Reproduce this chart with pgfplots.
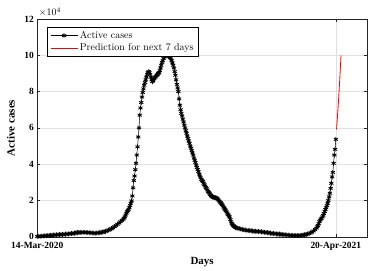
\documentclass[border=0pt]{standalone}
\usepackage{fontspec}
\usepackage{pgfplots}
\pgfplotsset{compat=1.18}
\newfontfamily\tnr{Liberation Serif}
\begin{document}
\begin{tikzpicture}
\begin{axis}[
 scale only axis, width=330bp, height=218bp,
 xmin=0, xmax=444, ymin=0, ymax=120000,
 xtick={0,402}, xticklabels={14-Mar-2020,20-Apr-2021},
 ytick={0,20000,40000,60000,80000,100000,120000},
 yticklabels={0,2,4,6,8,10,12},
 scaled y ticks=false,
 grid=major, major grid style={black!12, line width=0.5bp},
 axis line style={black!85, line width=0.6bp},
 tick style={black!85, line width=0.5bp},
 tick align=inside, major tick length=3bp,
 ticklabel style={font=\tnr\bfseries\fontsize{9.5}{11}\selectfont},
 xticklabel style={yshift=-2bp},
 xlabel={Days}, ylabel={Active cases},
 every axis x label/.style={at={(axis description cs:0.5,-0.115)},anchor=center,font=\tnr\bfseries\fontsize{11}{13}\selectfont},
 every axis y label/.style={at={(axis description cs:-0.08,0.5)},rotate=90,anchor=center,font=\tnr\bfseries\fontsize{11}{13}\selectfont},
 legend cell align=left,
 legend style={at={(axis description cs:0.0294,0.963)}, anchor=north west, draw=black, line width=0.5bp, font=\fontsize{10}{12}\selectfont},
 legend image code/.code={\draw[mark repeat=2,mark phase=2,#1] plot coordinates {(0bp,0bp)(13.5bp,0bp)(27bp,0bp)};},
]
\addplot[black, line width=0.5bp, mark=asterisk, mark size=2.4bp, mark options={line width=0.8bp}] table {
x y
0 200
2 270
4 330
6 400
8 470
10 530
12 600
14 670
16 730
18 800
20 870
22 930
24 1000
26 1070
28 1130
30 1200
32 1270
34 1330
36 1400
38 1470
40 1530
42 1600
44 1670
46 1780
48 1900
50 2030
52 2170
54 2300
56 2370
58 2430
60 2500
62 2500
64 2470
66 2400
68 2330
70 2270
72 2200
74 2130
76 2070
78 2000
80 2070
82 2170
84 2300
86 2430
88 2600
90 2800
92 3000
94 3300
96 3700
98 4100
100 4500
102 5000
104 5600
106 6200
108 6900
110 7600
112 8300
114 9000
116 9800
117 10300
118 11000
119 12000
120 13000
121 13800
122 14500
123 15200
124 16000
125 17200
126 18500
127 19800
128 22500
129 27000
130 31000
131 33500
132 37000
133 40500
134 45000
135 49600
136 55000
137 60000
138 67000
139 71000
140 74000
141 77000
142 79500
143 81500
144 83500
145 85000
146 86500
147 88000
148 89500
149 90500
150 91000
151 90500
152 89500
153 88000
154 86500
155 85500
156 86000
157 87000
158 87500
159 88000
160 88500
161 89000
162 89500
163 90000
164 90500
165 91500
166 93000
167 94500
168 96000
169 97000
170 98200
171 99000
172 99600
173 100000
174 100200
175 100000
176 99800
177 99500
178 99200
179 98700
180 98000
181 97000
182 95800
183 94500
184 93000
185 91000
186 89000
187 86500
188 84000
189 82000
190 80000
191 76000
192 72500
193 70000
194 68000
195 66500
196 64800
197 63300
198 61500
199 60000
200 58500
201 57000
202 55500
203 54200
204 52800
205 51500
206 50000
207 48800
208 47500
209 46200
210 45000
211 43500
212 42200
213 41000
214 39500
215 38200
216 37000
217 35900
218 34500
219 33500
220 32500
221 31700
222 31000
223 30400
224 29500
225 28700
226 28000
227 27200
228 26500
229 25800
230 25000
231 24500
232 24000
233 23300
234 22700
235 22200
236 22000
237 21800
238 21700
239 21600
240 21500
241 21400
242 21200
243 20800
244 20300
245 19700
246 19200
247 18800
248 18300
249 17700
250 17000
251 16300
252 15700
253 15000
254 14300
255 13700
256 13000
257 12200
258 11500
259 11000
260 9500
261 8200
262 7200
263 6600
264 6200
265 5800
266 5500
267 5200
268 5000
270 4700
272 4500
274 4300
276 4100
278 3900
280 3700
282 3570
284 3470
286 3400
288 3270
290 3170
292 3100
294 3030
296 2970
298 2900
300 2830
302 2730
304 2600
306 2530
308 2430
310 2300
312 2170
314 2030
316 1900
318 1770
320 1670
322 1600
324 1530
326 1470
328 1400
330 1270
332 1170
334 1100
336 1030
338 970
340 900
342 830
344 770
346 700
348 700
350 700
352 700
354 770
356 870
358 1000
360 1130
362 1300
364 1500
366 1800
368 2200
370 2600
372 3200
374 4000
376 4800
377 5500
378 6200
379 7200
380 8400
381 9200
382 9800
383 10300
384 11000
385 11800
386 12800
387 14000
388 15000
389 16000
390 17200
391 18500
392 20000
393 22000
394 24000
395 26700
396 29500
397 33000
398 35500
399 40500
400 45000
401 48200
402 53700
};
\addlegendentry{Active cases}
\addplot[red, line width=0.8bp] coordinates {(403,59200)(404,65000)(405,71000)(406,77500)(407,84500)(408,92000)(409,100000)};
\addlegendentry{Prediction for next 7 days}
\end{axis}
\node[anchor=base west, inner sep=0pt, font=\fontsize{10}{12}\selectfont] at ([xshift=1.5bp,yshift=3bp]current axis.north west) {$\times10^{4}$};
\pgfresetboundingbox
\path ([shift={(-37.3bp,-34bp)}]current axis.south west) rectangle ([shift={(2bp,19bp)}]current axis.north east);
\end{tikzpicture}
\end{document}
